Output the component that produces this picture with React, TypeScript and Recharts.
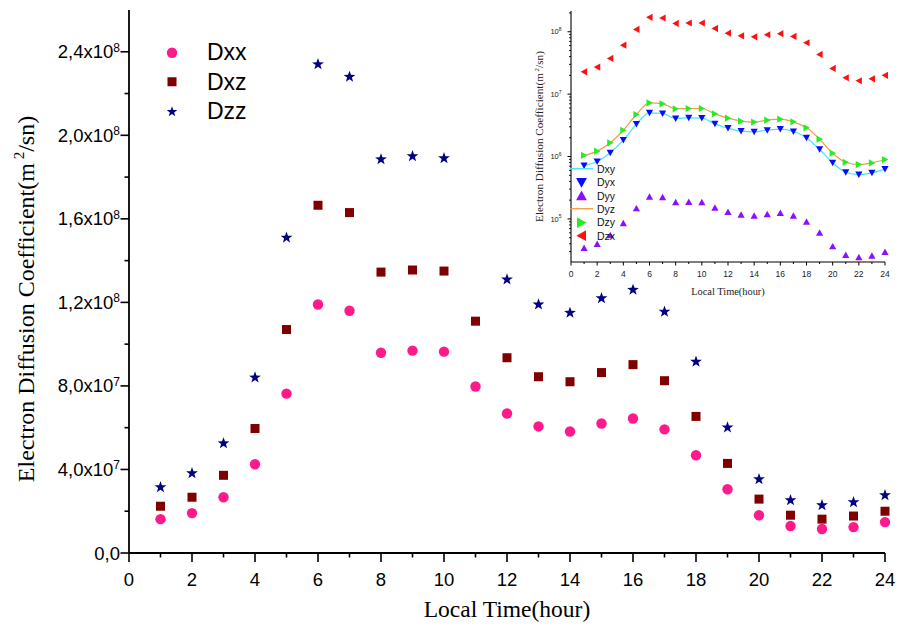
import React from 'react';
import { ComposedChart, Scatter, Line, XAxis, YAxis, Legend } from 'recharts';

// ---- data ----
const HOURS = [1, 2, 3, 4, 5, 6, 7, 8, 9, 10, 11, 12, 13, 14, 15, 16, 17, 18, 19, 20, 21, 22, 23, 24];

// main panel, linear scale
const DXX = [1.62e7, 1.91e7, 2.67e7, 4.25e7, 7.63e7, 1.19e8, 1.16e8, 9.59e7, 9.69e7, 9.64e7, 7.97e7, 6.68e7,
  6.06e7, 5.82e7, 6.2e7, 6.44e7, 5.92e7, 4.68e7, 3.05e7, 1.81e7, 1.29e7, 1.15e7, 1.24e7, 1.48e7];
const DXZ = [2.24e7, 2.67e7, 3.72e7, 5.96e7, 1.07e8, 1.665e8, 1.63e8, 1.345e8, 1.355e8, 1.35e8, 1.11e8, 9.35e7,
  8.44e7, 8.2e7, 8.64e7, 9.02e7, 8.25e7, 6.54e7, 4.29e7, 2.58e7, 1.81e7, 1.62e7, 1.77e7, 2.0e7];
const DZZ = [3.15e7, 3.82e7, 5.25e7, 8.4e7, 1.51e8, 2.34e8, 2.28e8, 1.885e8, 1.9e8, 1.89e8, null, 1.31e8,
  1.19e8, 1.15e8, 1.22e8, 1.26e8, 1.155e8, 9.16e7, 6.01e7, 3.53e7, 2.53e7, 2.29e7, 2.43e7, 2.77e7];

// inset, log scale
const DXY = [7.17e5, 8.32e5, 1.15e6, 1.83e6, 3.3e6, 5.02e6, 4.9e6, 4.07e6, 4.17e6, 4.12e6, 3.34e6, 2.85e6,
  2.55e6, 2.49e6, 2.64e6, 2.75e6, 2.52e6, 1.99e6, 1.31e6, 7.91e5, 5.6e5, 5.14e5, 5.47e5, 6.27e5];
const DYX = [7.17e5, 8.32e5, 1.15e6, 1.83e6, 3.3e6, 5.02e6, 4.9e6, 4.07e6, 4.17e6, 4.12e6, 3.34e6, 2.85e6,
  2.55e6, 2.49e6, 2.64e6, 2.75e6, 2.52e6, 1.99e6, 1.31e6, 7.91e5, 5.6e5, 5.14e5, 5.47e5, 6.27e5];
const DYY = [3.43e4, 3.97e4, 5.47e4, 8.52e4, 1.48e5, 2.28e5, 2.23e5, 1.85e5, 1.87e5, 1.85e5, 1.52e5, 1.29e5,
  1.17e5, 1.13e5, 1.19e5, 1.25e5, 1.13e5, 9.06e4, 6.03e4, 3.64e4, 2.64e4, 2.43e4, 2.58e4, 2.96e4];
const DYZ = [1.04e6, 1.22e6, 1.66e6, 2.64e6, 4.72e6, 7.26e6, 7.0e6, 5.82e6, 5.89e6, 5.89e6, 4.83e6, 4.12e6,
  3.69e6, 3.56e6, 3.83e6, 3.97e6, 3.6e6, 2.88e6, 1.9e6, 1.13e6, 8.1e5, 7.44e5, 7.9e5, 8.95e5];
const DZY = [1.04e6, 1.22e6, 1.66e6, 2.64e6, 4.72e6, 7.26e6, 7.0e6, 5.82e6, 5.89e6, 5.89e6, 4.83e6, 4.12e6,
  3.69e6, 3.56e6, 3.83e6, 3.97e6, 3.6e6, 2.88e6, 1.9e6, 1.13e6, 8.1e5, 7.44e5, 7.9e5, 8.95e5];
const DZX = [2.28e7, 2.71e7, 3.73e7, 6.1e7, 1.09e8, 1.7e8, 1.66e8, 1.36e8, 1.38e8, 1.38e8, 1.13e8, 9.5e7,
  8.6e7, 8.3e7, 8.95e7, 9.3e7, 8.4e7, 6.66e7, 4.33e7, 2.58e7, 1.83e7, 1.64e7, 1.76e7, 2.0e7];

// ticks
const X_TICKS = [0, 1, 2, 3, 4, 5, 6, 7, 8, 9, 10, 11, 12, 13, 14, 15, 16, 17, 18, 19, 20, 21, 22, 23, 24];
const MAIN_Y_MAJOR = [0, 4e7, 8e7, 1.2e8, 1.6e8, 2.0e8, 2.4e8];
const MAIN_Y_MANT = ['0,0', '4,0', '8,0', '1,2', '1,6', '2,0', '2,4'];
const MAIN_Y_EXP = ['', '7', '7', '8', '8', '8', '8'];
const MAIN_Y_MINOR = [2e7, 6e7, 1e8, 1.4e8, 1.8e8, 2.2e8];
const INSET_Y_MAJOR = [1e5, 1e6, 1e7, 1e8];
const INSET_Y_EXP = ['5', '6', '7', '8'];
const INSET_Y_MINOR = [3e4, 4e4, 5e4, 6e4, 7e4, 8e4, 9e4, 2e5, 3e5, 4e5, 5e5, 6e5, 7e5, 8e5, 9e5,
  2e6, 3e6, 4e6, 5e6, 6e6, 7e6, 8e6, 9e6, 2e7, 3e7, 4e7, 5e7, 6e7, 7e7, 8e7, 9e7, 2e8];

const SANS = '"Liberation Sans", Arial, sans-serif';
const SERIF = '"Liberation Serif", "Times New Roman", serif';

const PINK = '#ff1a8c';
const MAROON = '#800000';
const NAVY = '#000080';
const CYAN = '#3ee6f6';
const BLUE = '#0a0aff';
const PURPLE = '#8a10ff';
const ORANGE = '#f59a4c';
const GREEN = '#22ee22';
const RED = '#ff1010';

const toPts = (vals: (number | null)[]) =>
  HOURS.map((h, i) => ({ hour: h, value: vals[i] })).filter((p) => p.value != null);

// ---- marker shapes ----
function starPath(cx: number, cy: number, R: number) {
  let d = '';
  for (let i = 0; i < 10; i++) {
    const r = i % 2 === 0 ? R : R * 0.4;
    const a = -Math.PI / 2 + (i * Math.PI) / 5;
    d += (i ? 'L' : 'M') + (cx + r * Math.cos(a)).toFixed(2) + ',' + (cy + r * Math.sin(a)).toFixed(2);
  }
  return d + 'Z';
}

function triPath(cx: number, cy: number, s: number, dir: string) {
  if (dir === 'down') return `M${cx - s},${cy - s * 0.85}L${cx + s},${cy - s * 0.85}L${cx},${cy + s * 0.95}Z`;
  if (dir === 'up') return `M${cx - s},${cy + s * 0.85}L${cx + s},${cy + s * 0.85}L${cx},${cy - s * 0.95}Z`;
  if (dir === 'left') return `M${cx + s * 0.85},${cy - s}L${cx + s * 0.85},${cy + s}L${cx - s * 0.95},${cy}Z`;
  return `M${cx - s * 0.85},${cy - s}L${cx - s * 0.85},${cy + s}L${cx + s * 0.95},${cy}Z`;
}

const circleShape = (p: any) => <circle cx={p.cx} cy={p.cy} r={5.2} fill={PINK} />;
const squareShape = (p: any) => <rect x={p.cx - 4.5} y={p.cy - 4.5} width={9} height={9} fill={MAROON} />;
const starShape = (p: any) => <path d={starPath(p.cx, p.cy, 6.2)} fill={NAVY} />;
const triShape = (dir: string, color: string) => (p: any) => <path d={triPath(p.cx, p.cy, 3.6, dir)} fill={color} />;

// ---- main axis ticks ----
function MainXTick({ x, y, payload }: any) {
  const v = payload.value;
  const major = v % 2 === 0;
  return (
    <g>
      <line x1={x} x2={x} y1={y} y2={y + (major ? 9 : 4.5)} stroke="#000" strokeWidth={1.6} />
      {major && (
        <text x={x} y={y + 33} textAnchor="middle" fontFamily={SANS} fontSize={18.5} fill="#000">
          {v}
        </text>
      )}
    </g>
  );
}

function MainYTick({ x, y, payload }: any) {
  const i = MAIN_Y_MAJOR.indexOf(payload.value);
  if (i < 0) return <line x1={x} x2={x - 4.5} y1={y} y2={y} stroke="#000" strokeWidth={1.6} />;
  return (
    <g>
      <line x1={x} x2={x - 8.5} y1={y} y2={y} stroke="#000" strokeWidth={1.6} />
      <text x={x - 9} y={y + 6.5} textAnchor="end" fontFamily={SANS} fontSize={18.5} fill="#000">
        {MAIN_Y_MANT[i]}
        {MAIN_Y_EXP[i] ? 'x10' : ''}
        {MAIN_Y_EXP[i] ? (
          <tspan dy={-6.5} fontSize={12}>
            {MAIN_Y_EXP[i]}
          </tspan>
        ) : null}
      </text>
    </g>
  );
}

function TopTick({ x, y }: any) {
  return <line x1={x} x2={x} y1={y} y2={y + 3.5} stroke="#000" strokeWidth={1.2} />;
}

// ---- inset axis ticks ----
function InsetXTick({ x, y, payload }: any) {
  const v = payload.value;
  const major = v % 2 === 0;
  return (
    <g>
      <line x1={x} x2={x} y1={y} y2={y + (major ? 3.5 : 2)} stroke="#000" strokeWidth={1} />
      {major && (
        <text x={x} y={y + 14.5} textAnchor="middle" fontFamily={SANS} fontSize={8.5} fill="#222">
          {v}
        </text>
      )}
    </g>
  );
}

function InsetYTick({ x, y, payload }: any) {
  const i = INSET_Y_MAJOR.indexOf(payload.value);
  if (i < 0) return <line x1={x} x2={x - 2} y1={y} y2={y} stroke="#000" strokeWidth={0.9} />;
  return (
    <g>
      <line x1={x} x2={x - 3.5} y1={y} y2={y} stroke="#000" strokeWidth={1} />
      <text x={x - 9.5} y={y + 2.7} textAnchor="end" fontFamily={SANS} fontSize={7.5} fill="#222">
        10
        <tspan dy={-3.2} fontSize={5}>
          {INSET_Y_EXP[i]}
        </tspan>
      </text>
    </g>
  );
}

// ---- legends ----
const MAIN_LEGEND = [
  { name: 'Dxx', draw: (c: number) => <circle cx={12} cy={c} r={5.2} fill={PINK} /> },
  { name: 'Dxz', draw: (c: number) => <rect x={7.5} y={c - 4.5} width={9} height={9} fill={MAROON} /> },
  { name: 'Dzz', draw: (c: number) => <path d={starPath(12, c, 5.6)} fill={NAVY} /> },
];

const INSET_LEGEND = [
  { name: 'Dxy', draw: (c: number) => <line x1={1} x2={24} y1={c} y2={c} stroke={CYAN} strokeWidth={1.3} /> },
  { name: 'Dyx', draw: (c: number) => <path d={triPath(12.5, c, 5.4, 'down')} fill={BLUE} /> },
  { name: 'Dyy', draw: (c: number) => <path d={triPath(12.5, c, 5.4, 'up')} fill={PURPLE} /> },
  { name: 'Dyz', draw: (c: number) => <line x1={1} x2={24} y1={c} y2={c} stroke={ORANGE} strokeWidth={1.3} /> },
  { name: 'Dzy', draw: (c: number) => <path d={triPath(12.5, c, 5.4, 'right')} fill={GREEN} /> },
  { name: 'Dzx', draw: (c: number) => <path d={triPath(12.5, c, 5.4, 'left')} fill={RED} /> },
];

function MainLegend() {
  const rowH = 29.5;
  return (
    <div style={{ position: 'relative', width: 110, height: rowH * 3 }}>
      {MAIN_LEGEND.map((e, i) => (
        <div key={e.name} style={{ position: 'absolute', left: 0, top: i * rowH, height: rowH, display: 'flex', alignItems: 'center' }}>
          <svg width={24} height={rowH} style={{ display: 'block' }}>
            {e.draw(rowH / 2)}
          </svg>
          <span style={{ marginLeft: 23, fontFamily: SANS, fontSize: 23, color: '#000', lineHeight: 1 }}>{e.name}</span>
        </div>
      ))}
    </div>
  );
}

function InsetLegend() {
  const rowH = 13.4;
  return (
    <div style={{ position: 'relative', width: 50, height: rowH * 6 }}>
      {INSET_LEGEND.map((e, i) => (
        <div key={e.name} style={{ position: 'absolute', left: 0, top: i * rowH, height: rowH, display: 'flex', alignItems: 'center' }}>
          <svg width={25} height={rowH} style={{ display: 'block', overflow: 'visible' }}>
            {e.draw(rowH / 2)}
          </svg>
          <span style={{ marginLeft: 3, fontFamily: SANS, fontSize: 10.5, color: '#111', lineHeight: 1 }}>{e.name}</span>
        </div>
      ))}
    </div>
  );
}

// ---- axis titles ----
const mainYTitle = (p: any) => {
  const vb = p.viewBox;
  const cx = vb.x + 33.5;
  const cy = vb.y + vb.height / 2 + 17.5;
  return (
    <text x={cx} y={cy} transform={`rotate(-90 ${cx} ${cy})`} textAnchor="middle" fontFamily={SERIF} fontSize={24} fill="#000">
      Electron Diffusion Coefficient(m
      <tspan dy={-10} fontSize={15}>
        {' 2'}
      </tspan>
      <tspan dy={10}>/sn)</tspan>
    </text>
  );
};

const mainXTitle = (p: any) => {
  const vb = p.viewBox;
  return (
    <text x={vb.x + vb.width / 2} y={vb.y + 64} textAnchor="middle" fontFamily={SERIF} fontSize={23.5} fill="#000">
      Local Time(hour)
    </text>
  );
};

const insetYTitle = (p: any) => {
  const vb = p.viewBox;
  const cx = vb.x + 13;
  const cy = vb.y + vb.height / 2;
  return (
    <text x={cx} y={cy} transform={`rotate(-90 ${cx} ${cy})`} textAnchor="middle" fontFamily={SERIF} fontSize={11.2} fill="#222">
      Electron Diffusion Coefficient(m
      <tspan dy={-4.5} fontSize={7}>
        {' 2'}
      </tspan>
      <tspan dy={4.5}>/sn)</tspan>
    </text>
  );
};

const insetXTitle = (p: any) => {
  const vb = p.viewBox;
  return (
    <text x={vb.x + vb.width / 2} y={vb.y + 33} textAnchor="middle" fontFamily={SERIF} fontSize={10.4} fill="#222">
      Local Time(hour)
    </text>
  );
};

const AXIS = { stroke: '#000', strokeWidth: 1.8 };
const INSET_AXIS = { stroke: '#000', strokeWidth: 1.1 };

export default function App() {
  const allMainY = [...MAIN_Y_MAJOR, ...MAIN_Y_MINOR].sort((a, b) => a - b);
  const allInsetY = [...INSET_Y_MINOR, ...INSET_Y_MAJOR].sort((a, b) => a - b);

  return (
    <div style={{ position: 'absolute', left: 0, top: 0, width: 901, height: 633, background: '#fff' }}>
      <div style={{ position: 'absolute', left: 0, top: 0 }}>
        <ComposedChart width={901} height={633} margin={{ top: 10, right: 16, bottom: 0, left: 0 }}>
          <XAxis
            type="number"
            dataKey="hour"
            domain={[0, 24]}
            ticks={X_TICKS}
            interval={0}
            height={80}
            tickSize={0}
            tickMargin={0}
            tickLine={false}
            axisLine={AXIS}
            tick={<MainXTick />}
            label={{ content: mainXTitle }}
          />
          <XAxis
            xAxisId="top"
            orientation="top"
            type="number"
            dataKey="hour"
            domain={[0, 24]}
            ticks={X_TICKS}
            interval={0}
            height={0}
            tickSize={0}
            tickMargin={0}
            tickLine={false}
            axisLine={AXIS}
            tick={<TopTick />}
          />
          <YAxis
            type="number"
            domain={[0, 2.6e8]}
            ticks={allMainY}
            interval={0}
            width={129}
            tickSize={0}
            tickMargin={0}
            tickLine={false}
            axisLine={AXIS}
            tick={<MainYTick />}
            label={{ content: mainYTitle }}
          />
          <YAxis yAxisId="right" orientation="right" type="number" domain={[0, 1]} width={0} tick={false} tickLine={false} axisLine={AXIS} />
          <Scatter name="Dxx" data={toPts(DXX)} dataKey="value" shape={circleShape} isAnimationActive={false} />
          <Scatter name="Dxz" data={toPts(DXZ)} dataKey="value" shape={squareShape} isAnimationActive={false} />
          <Scatter name="Dzz" data={toPts(DZZ)} dataKey="value" shape={starShape} isAnimationActive={false} />
          <Legend
            layout="vertical"
            align="center"
            verticalAlign="middle"
            content={() => <MainLegend />}
            wrapperStyle={{ position: 'absolute', left: 160, top: 37.75, width: 110, height: 88.5 }}
          />
        </ComposedChart>
      </div>

      <div style={{ position: 'absolute', left: 530, top: 0 }}>
        <ComposedChart width={371} height={300} margin={{ top: 11, right: 16, bottom: 0, left: 0 }}>
          <XAxis
            type="number"
            dataKey="hour"
            domain={[0, 24]}
            ticks={X_TICKS}
            interval={0}
            height={38}
            tickSize={0}
            tickMargin={0}
            tickLine={false}
            axisLine={INSET_AXIS}
            tick={<InsetXTick />}
            label={{ content: insetXTitle }}
          />
          <XAxis xAxisId="top" orientation="top" type="number" dataKey="hour" domain={[0, 24]} height={0} tick={false} tickLine={false} axisLine={INSET_AXIS} />
          <YAxis
            type="number"
            scale="log"
            domain={[2.04e4, 2.15e8]}
            ticks={allInsetY}
            interval={0}
            width={41}
            tickSize={0}
            tickMargin={0}
            tickLine={false}
            axisLine={INSET_AXIS}
            tick={<InsetYTick />}
            label={{ content: insetYTitle }}
          />
          <YAxis yAxisId="right" orientation="right" type="number" domain={[0, 1]} width={0} tick={false} tickLine={false} axisLine={INSET_AXIS} />
          <Line name="Dxy" data={toPts(DXY)} dataKey="value" type="monotone" stroke={CYAN} strokeWidth={1.2} dot={false} isAnimationActive={false} />
          <Line name="Dyz" data={toPts(DYZ)} dataKey="value" type="monotone" stroke={ORANGE} strokeWidth={1.2} dot={false} isAnimationActive={false} />
          <Scatter name="Dyx" data={toPts(DYX)} dataKey="value" shape={triShape('down', BLUE)} isAnimationActive={false} />
          <Scatter name="Dyy" data={toPts(DYY)} dataKey="value" shape={triShape('up', PURPLE)} isAnimationActive={false} />
          <Scatter name="Dzy" data={toPts(DZY)} dataKey="value" shape={triShape('right', GREEN)} isAnimationActive={false} />
          <Scatter name="Dzx" data={toPts(DZX)} dataKey="value" shape={triShape('left', RED)} isAnimationActive={false} />
          <Legend
            layout="vertical"
            align="center"
            verticalAlign="middle"
            content={() => <InsetLegend />}
            wrapperStyle={{ position: 'absolute', left: 39, top: 162.3, width: 50, height: 80.4 }}
          />
        </ComposedChart>
      </div>
    </div>
  );
}
